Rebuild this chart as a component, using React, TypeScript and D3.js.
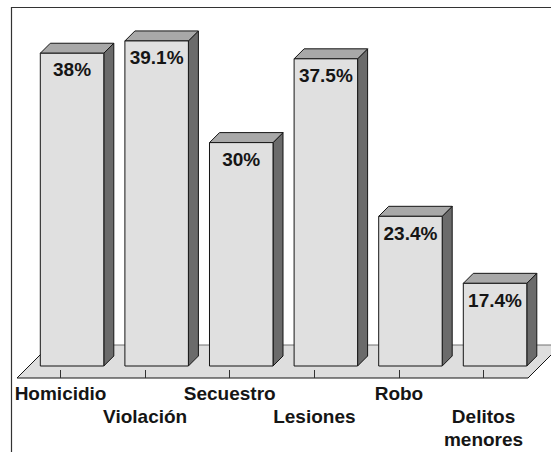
import React from "react";
import * as d3 from "d3";

const categories = ["Homicidio", "Violación", "Secuestro", "Lesiones", "Robo", "Delitos menores"];
const percentages = [38, 39.1, 30, 37.5, 23.4, 17.4];
const valueLabels = ["38%", "39.1%", "30%", "37.5%", "23.4%", "17.4%"];

const WIDTH = 551;
const HEIGHT = 452;
const DEPTH = 10;
const FLOOR_FRONT = 378;
const FLOOR_BACK = 345;
const TICK_SHIFT = -11.5;

const INK = "#151515";
const FONT = "'Liberation Sans', Arial, sans-serif";

export default function App() {
  const x = d3
    .scaleBand<string>()
    .domain(categories)
    .range([29.75, 537.35])
    .paddingInner(0.2494)
    .paddingOuter(0.1247);
  // The value axis starts at 10, not at zero.
  const y = d3.scaleLinear().domain([10, 40]).range([366, 30.9]);
  const base = y(10);
  const w = x.bandwidth();
  const poly = (pts: [number, number][]) => d3.line()(pts) + "Z";

  const floorDepth = FLOOR_FRONT - FLOOR_BACK;
  const floorLeft = 17;
  const floorRight = 528;

  return (
    <svg
      width={WIDTH}
      height={HEIGHT}
      viewBox={`0 0 ${WIDTH} ${HEIGHT}`}
      style={{ position: "absolute", left: 0, top: 0, background: "#fff" }}
    >
      {/* Plot frame: open at the right and bottom */}
      <path d={`M11.5 ${HEIGHT}V7.5H${WIDTH}`} fill="none" stroke="#333" strokeWidth={1.2} />

      {/* Floor */}
      <path
        d={poly([
          [floorLeft, FLOOR_FRONT],
          [floorLeft + floorDepth, FLOOR_BACK],
          [floorRight + floorDepth, FLOOR_BACK],
          [floorRight, FLOOR_FRONT],
        ])}
        fill="#dedede"
        stroke="none"
      />
      <path
        d={`M${floorLeft + floorDepth} ${FLOOR_BACK}H${floorRight + floorDepth}`}
        fill="none"
        stroke="#707070"
        strokeWidth={1}
      />
      <path
        d={`M${floorLeft + floorDepth} ${FLOOR_BACK}L${floorLeft} ${FLOOR_FRONT}H${floorRight}L${floorRight + floorDepth} ${FLOOR_BACK}`}
        fill="none"
        stroke={INK}
        strokeWidth={1}
      />

      {/* Category ticks */}
      {categories.map((c) => {
        const tx = Math.round(x(c)! + w / 2 + TICK_SHIFT - 0.3) + 0.5;
        return <line key={c} x1={tx} x2={tx} y1={FLOOR_FRONT - 8} y2={FLOOR_FRONT} stroke="#333" />;
      })}

      {/* Extruded bars */}
      {categories.map((c, i) => {
        const x0 = x(c)!;
        const x1 = x0 + w;
        const top = y(percentages[i]);
        return (
          <g key={c} stroke={INK} strokeWidth={1} strokeLinejoin="round">
            <path
              d={poly([
                [x1, top],
                [x1 + DEPTH, top - DEPTH],
                [x1 + DEPTH, base - DEPTH],
                [x1, base],
              ])}
              fill="#6b6b6b"
            />
            <path
              d={poly([
                [x0, top],
                [x0 + DEPTH, top - DEPTH],
                [x1 + DEPTH, top - DEPTH],
                [x1, top],
              ])}
              fill="#a8a8a8"
            />
            <rect x={x0} y={top} width={w} height={base - top} fill="#e0e0e0" />
            <text
              x={(x0 + x1) / 2}
              y={top + 23.2}
              textAnchor="middle"
              fontFamily={FONT}
              fontWeight={700}
              fontSize={19}
              fill={INK}
              stroke="none"
            >
              {valueLabels[i]}
            </text>
          </g>
        );
      })}

      {/* Category names, staggered on two rows */}
      {categories.map((c, i) => {
        const cx = x(c)! + w / 2 + TICK_SHIFT;
        const first = i % 2 === 0 ? 400 : 423;
        const words = c === "Delitos menores" ? c.split(" ") : [c];
        return (
          <text
            key={c}
            textAnchor="middle"
            fontFamily={FONT}
            fontWeight={700}
            fontSize={19}
            fill={INK}
          >
            {words.map((word, k) => (
              <tspan key={word} x={cx} y={first + k * 23}>
                {word}
              </tspan>
            ))}
          </text>
        );
      })}
    </svg>
  );
}
